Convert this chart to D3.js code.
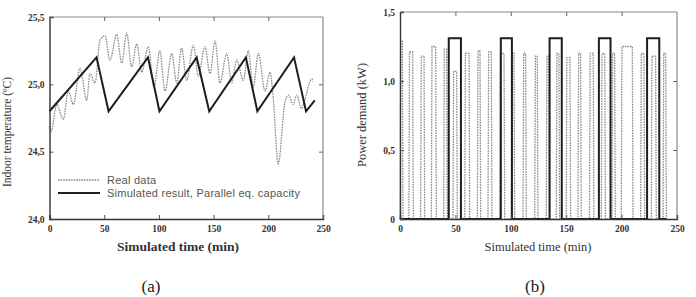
<!DOCTYPE html>
<html>
<head>
<meta charset="utf-8">
<script src="https://cdn.jsdelivr.net/npm/d3@7"></script>
<style>
html,body{margin:0;padding:0;background:#fff;}
svg{display:block;}
</style>
</head>
<body>
<svg id="chart" width="696" height="297"></svg>
<script>
// ---------- Panel (a): indoor temperature ----------
const tempTicks = [24.0, 24.5, 25.0, 25.5];
const tempTickLabels = ["24,0", "24,5", "25,0", "25,5"];
const timeTicks = [0, 50, 100, 150, 200, 250];
const timeTickLabels = ["0", "50", "100", "150", "200", "250"];

// Real data (measured), local extremes of the oscillating trace
const realTempTime = [0, 1.5, 6.6, 12.6, 17.2, 21.8, 27.9, 34, 37, 41.6, 46.2, 50.7, 55.3, 61.4, 66, 70.6, 75.1, 79.7, 84.3, 90.3, 95.5, 100.8, 105.6, 111.7, 116.3, 120.8, 125.4, 131.5, 136, 142.1, 146.7, 151.3, 155.8, 162, 166.5, 171.1, 177.2, 181.7, 186.3, 190.9, 197, 201.6, 204.5, 209, 215.3, 218.3, 222.9, 225.9, 230.5, 232.5, 239.7, 241];
const realTempValue = [24.69, 24.65, 24.85, 24.74, 24.95, 24.85, 25.12, 24.88, 25.08, 25.01, 25.33, 25.36, 25.18, 25.37, 25.16, 25.38, 25.13, 25.30, 25.09, 25.28, 24.98, 25.25, 24.95, 25.23, 25.01, 25.27, 25.03, 25.29, 25.06, 25.28, 25.08, 25.32, 25.01, 25.23, 25.01, 25.18, 25.03, 25.25, 24.98, 25.23, 24.95, 25.09, 24.90, 24.41, 24.87, 24.92, 24.85, 24.92, 24.82, 24.86, 25.04, 25.02];

// Simulated result (parallel eq. capacity): sawtooth vertices
const simTempTime = [0, 43, 54, 90, 100.5, 134.5, 146, 179.5, 190, 223.5, 234.5, 242.5];
const simTempValue = [24.8, 25.2, 24.8, 25.2, 24.8, 25.2, 24.8, 25.2, 24.8, 25.2, 24.8, 24.88];

const legendLabels = ["Real data", "Simulated result, Parallel eq. capacity"];

// ---------- Panel (b): power demand ----------
const powerTicks = [0, 0.5, 1.0, 1.5];
const powerTickLabels = ["0", "0,5", "1,0", "1,5"];

// Real data: on/off cycles of the unit
const realOn   = [0, 8, 18.6, 28.3, 39.4, 47.8, 58.4, 69.8, 79.4, 90, 100.5, 111, 121.6, 132, 141, 150, 160.6, 171, 181.7, 191.3, 199.7, 217.2, 226.8, 237.4];
const realOff  = [2.7, 12, 22.3, 32.8, 42.7, 51.7, 62.9, 72.8, 83, 94.5, 103.5, 114, 124.5, 135, 144, 154, 163.6, 175, 185.4, 194.3, 210.3, 220.8, 231.3, 240.4];
const realPeak = [1.29, 1.21, 1.18, 1.25, 1.23, 1.07, 1.2, 1.22, 1.21, 1.2, 1.2, 1.2, 1.18, 1.18, 1.2, 1.17, 1.2, 1.2, 1.2, 1.2, 1.25, 1.2, 1.18, 1.2];

// Simulated: rectangular pulses
const simOn  = [44, 91, 135, 179.5, 223];
const simOff = [55, 101, 146, 190, 234];
const simLevel = 1.31;
const simEnd = 240;

const svg = d3.select("#chart");
const serif = "'Liberation Serif','DejaVu Serif',serif";
const sans = "'Liberation Sans',Arial,sans-serif";

function drawFrame(g, x, y, xTicks, xLabels, yTicks, yLabels) {
  const [x0, x1] = x.range();
  const [y0, y1] = y.range(); // y0 bottom, y1 top
  g.append("line").attr("x1", x0).attr("x2", x1).attr("y1", y1).attr("y2", y1)
    .attr("stroke", "#8a8a8a").attr("stroke-width", 1.2);
  g.append("line").attr("x1", x1).attr("x2", x1).attr("y1", y1).attr("y2", y0)
    .attr("stroke", "#8a8a8a").attr("stroke-width", 1.2);
  const bx = d3.axisBottom(x).tickValues(xTicks).tickSize(-4).tickPadding(6)
    .tickFormat((d, i) => xLabels[i]);
  const ga = g.append("g").attr("transform", `translate(0,${y0})`).call(bx);
  const ly = d3.axisLeft(y).tickValues(yTicks).tickSize(-4).tickPadding(5)
    .tickFormat((d, i) => yLabels[i]);
  const gl = g.append("g").attr("transform", `translate(${x0},0)`).call(ly);
  [ga, gl].forEach(a => {
    a.select(".domain").attr("stroke", "#333").attr("stroke-width", 1.4);
    a.selectAll(".tick line").attr("stroke", "#555");
    a.selectAll(".tick text").attr("font-family", serif).attr("font-weight", "bold")
      .attr("font-size", 9.5).attr("fill", "#333");
  });
  const tx = d3.axisTop(x).tickValues(xTicks.slice(1, -1)).tickSize(-4).tickFormat("");
  g.append("g").attr("transform", `translate(0,${y1})`).call(tx)
    .call(s => { s.select(".domain").remove(); s.selectAll("line").attr("stroke", "#666"); });
  const ry = d3.axisRight(y).tickValues(yTicks.slice(1, -1)).tickSize(-4).tickFormat("");
  g.append("g").attr("transform", `translate(${x1},0)`).call(ry)
    .call(s => { s.select(".domain").remove(); s.selectAll("line").attr("stroke", "#666"); });
}

// ----- Panel (a) -----
const xa = d3.scaleLinear().domain([0, 250]).range([49.5, 323]);
const ya = d3.scaleLinear().domain([24.0, 25.5]).range([219, 17]);
const ga = svg.append("g");

const realA = realTempTime.map((t, i) => [t, realTempValue[i]]);
const simA = simTempTime.map((t, i) => [t, simTempValue[i]]);

ga.append("path").datum(realA)
  .attr("d", d3.line().x(d => xa(d[0])).y(d => ya(d[1])).curve(d3.curveMonotoneX))
  .attr("fill", "none").attr("stroke", "#8c8c8c").attr("stroke-width", 1.3)
  .attr("stroke-dasharray", "1.6,1");
ga.append("path").datum(simA)
  .attr("d", d3.line().x(d => xa(d[0])).y(d => ya(d[1])))
  .attr("fill", "none").attr("stroke", "#1e1e1e").attr("stroke-width", 2)
  .attr("stroke-linejoin", "miter");

drawFrame(ga, xa, ya, timeTicks, timeTickLabels, tempTicks, tempTickLabels);

const lg = ga.append("g");
lg.append("line").attr("x1", 58).attr("x2", 100).attr("y1", 180).attr("y2", 180)
  .attr("stroke", "#8c8c8c").attr("stroke-width", 1.3).attr("stroke-dasharray", "1.6,1");
lg.append("line").attr("x1", 58).attr("x2", 100).attr("y1", 193).attr("y2", 193)
  .attr("stroke", "#1e1e1e").attr("stroke-width", 2);
lg.selectAll("text").data(legendLabels).join("text")
  .attr("x", 107).attr("y", (d, i) => 184 + i * 13)
  .attr("font-family", sans).attr("font-size", 11).attr("letter-spacing", 0.25).attr("fill", "#555")
  .text(d => d);

ga.append("text").attr("x", 178).attr("y", 251).attr("text-anchor", "middle")
  .attr("font-family", serif).attr("font-weight", "bold").attr("font-size", 13.5).attr("fill", "#333")
  .text("Simulated time (min)");
ga.append("text").attr("transform", "translate(11,132) rotate(-90)").attr("text-anchor", "middle")
  .attr("font-family", serif).attr("font-size", 11.5).attr("fill", "#333")
  .text("Indoor temperature (ºC)");
ga.append("text").attr("x", 151).attr("y", 292).attr("text-anchor", "middle")
  .attr("font-family", serif).attr("font-size", 17).attr("fill", "#222").text("(a)");

// ----- Panel (b) -----
const xb = d3.scaleLinear().domain([0, 250]).range([400, 677]);
const yb = d3.scaleLinear().domain([0, 1.5]).range([219, 12]);
const gb = svg.append("g");

const realB = [];
realOn.forEach((on, i) => {
  const off = realOff[i], h = realPeak[i];
  realB.push([on, 0], [on + 0.6, h], [off - 0.6, h], [off, 0]);
});
const simB = [[0, 0]];
simOn.forEach((on, i) => {
  simB.push([on, 0], [on, simLevel], [simOff[i], simLevel], [simOff[i], 0]);
});
simB.push([simEnd, 0]);

const lineB = d3.line().x(d => xb(d[0])).y(d => yb(d[1]));
gb.append("path").datum(realB).attr("d", lineB)
  .attr("fill", "none").attr("stroke", "#8c8c8c").attr("stroke-width", 1.3)
  .attr("stroke-dasharray", "1.6,1");
gb.append("path").datum(simB).attr("d", lineB)
  .attr("fill", "none").attr("stroke", "#1e1e1e").attr("stroke-width", 2);

drawFrame(gb, xb, yb, timeTicks, timeTickLabels, powerTicks, powerTickLabels);

gb.append("text").attr("x", 538).attr("y", 251).attr("text-anchor", "middle")
  .attr("font-family", serif).attr("font-size", 12.5).attr("fill", "#333")
  .text("Simulated time (min)");
gb.append("text").attr("transform", "translate(366,115) rotate(-90)").attr("text-anchor", "middle")
  .attr("font-family", serif).attr("font-size", 12.5).attr("fill", "#333")
  .text("Power demand (kW)");
gb.append("text").attr("x", 535).attr("y", 292).attr("text-anchor", "middle")
  .attr("font-family", serif).attr("font-size", 17).attr("fill", "#222").text("(b)");
</script>
</body>
</html>
